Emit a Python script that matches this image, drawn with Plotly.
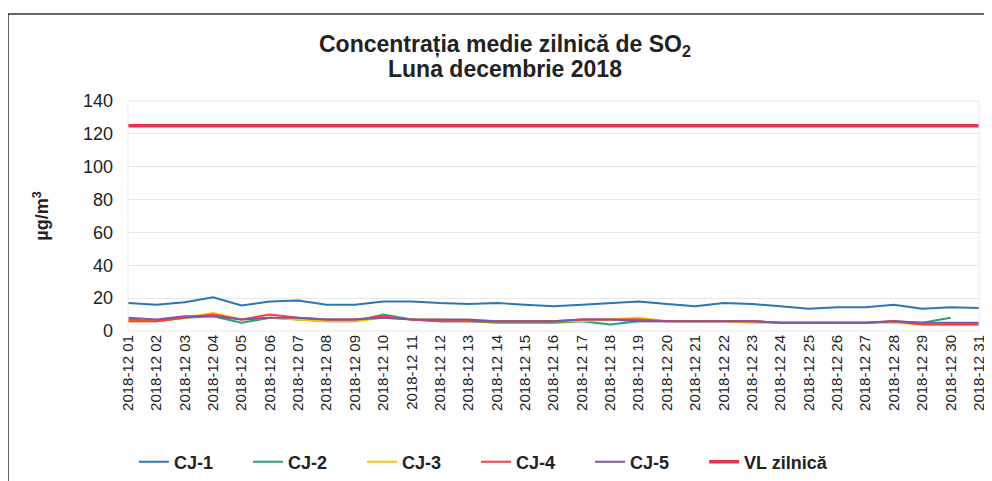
import plotly.graph_objects as go

zile = ['2018-12 %02d' % d for d in range(1, 32)]

cj1 = [17, 16, 17.5, 20.5, 15.5, 18, 18.5, 16, 16, 18, 18, 17, 16.5, 17, 16, 15,
       16, 17, 18, 16.5, 15, 17, 16.5, 15, 13.5, 14.5, 14.5, 16, 13.5, 14.5, 14]
cj2 = [7, 6, 8, 9, 5, 8, 7, 6, 6, 10, 7, 6, 6, 5, 5, 5,
       6, 4, 6, 6, 6, 6, 6, 5, 5, 5, 5, 6, 5, 8, None]
cj3 = [6, 6, 8, 11, 7, 8, 7, 6, 6, 8, 7, 7, 6, 6, 6, 6,
       6, 7, 8, 6, 6, 6, 5, 5, 5, 5, 5, 5, 4, 4, 4]
cj4 = [6, 6, 8, 10, 7, 10, 8, 7, 7, 9, 7, 6, 6, 6, 6, 6,
       7, 7, 7, 6, 6, 6, 6, 5, 5, 5, 5, 6, 4, 4, 4]
cj5 = [8, 7, 9, 9, 7, 8, 8, 7, 7, 8, 7, 7, 7, 6, 6, 6,
       7, 7, 6, 6, 6, 6, 6, 5, 5, 5, 5, 6, 5, 5, 5]
vl = [125] * 31

serii = [
    ('CJ-1', cj1, '#2e75b6', 2),
    ('CJ-2', cj2, '#2ca072', 2),
    ('CJ-3', cj3, '#ffc000', 2),
    ('CJ-4', cj4, '#ff3b3b', 2),
    ('CJ-5', cj5, '#7e57a5', 2),
    ('VL zilnică', vl, '#e8344e', 3.5),
]

fig = go.Figure()
for nume, val, cul, w in serii:
    # spatii nbsp ca sa departez intrarile din legenda
    eticheta = '<b>%s</b>' % nume + ('\u00a0' * 6 if nume.startswith('CJ') else '')
    fig.add_trace(go.Scatter(x=zile, y=val, name=eticheta, mode='lines',
                             line=dict(color=cul, width=w)))

# pagina are margine de 8px, deci figura e mai mica cu 8px
txt = '#222'
fig.update_layout(
    width=984, height=473,
    margin=dict(l=120, r=13, t=93, b=150, autoexpand=False),
    paper_bgcolor='white', plot_bgcolor='white',
    font=dict(family='Liberation Sans, Arial, sans-serif', color=txt),
    xaxis=dict(
        type='category', range=[0, 30], tickangle=-90, automargin=False,
        tickfont=dict(size=15, color=txt),
        showgrid=False, showline=False, ticks='',
    ),
    yaxis=dict(
        range=[0, 140], dtick=20, automargin=False,
        tickfont=dict(size=18, color=txt),
        gridcolor='#e8e8e8', zeroline=False, ticklabelstandoff=14,
        title=dict(text='<b>µg/m<sup>3</sup></b>', font=dict(size=18, color=txt), standoff=29),
    ),
    legend=dict(
        orientation='h', x=0.007, xanchor='left', y=-0.57, yanchor='middle',
        font=dict(size=18, color=txt), traceorder='normal',
    ),
    annotations=[
        dict(text='<b>Concentrația medie zilnică de SO<sub>2</sub></b>', xref='paper', yref='paper',
             x=0.443, y=(323 - 37) / 230, showarrow=False, yanchor='middle',
             font=dict(size=23, color=txt)),
        dict(text='<b>Luna decembrie 2018</b>', xref='paper', yref='paper',
             x=0.443, y=(323 - 61) / 230, showarrow=False, yanchor='middle',
             font=dict(size=23, color=txt)),
    ],
    shapes=[
        dict(type='rect', xref='paper', yref='paper', x0=0, x1=1, y0=0, y1=1,
             line=dict(color='#e8e8e8', width=1)),
        dict(type='line', xref='paper', yref='paper', x0=-0.141, x1=-0.141, y0=-0.7, y1=1.378,
             line=dict(color='#333', width=1.5)),
        dict(type='line', xref='paper', yref='paper', x0=-0.141, x1=1.03, y0=1.378, y1=1.378,
             line=dict(color='#333', width=1.5)),
    ],
)

fig.write_html('out.html')
